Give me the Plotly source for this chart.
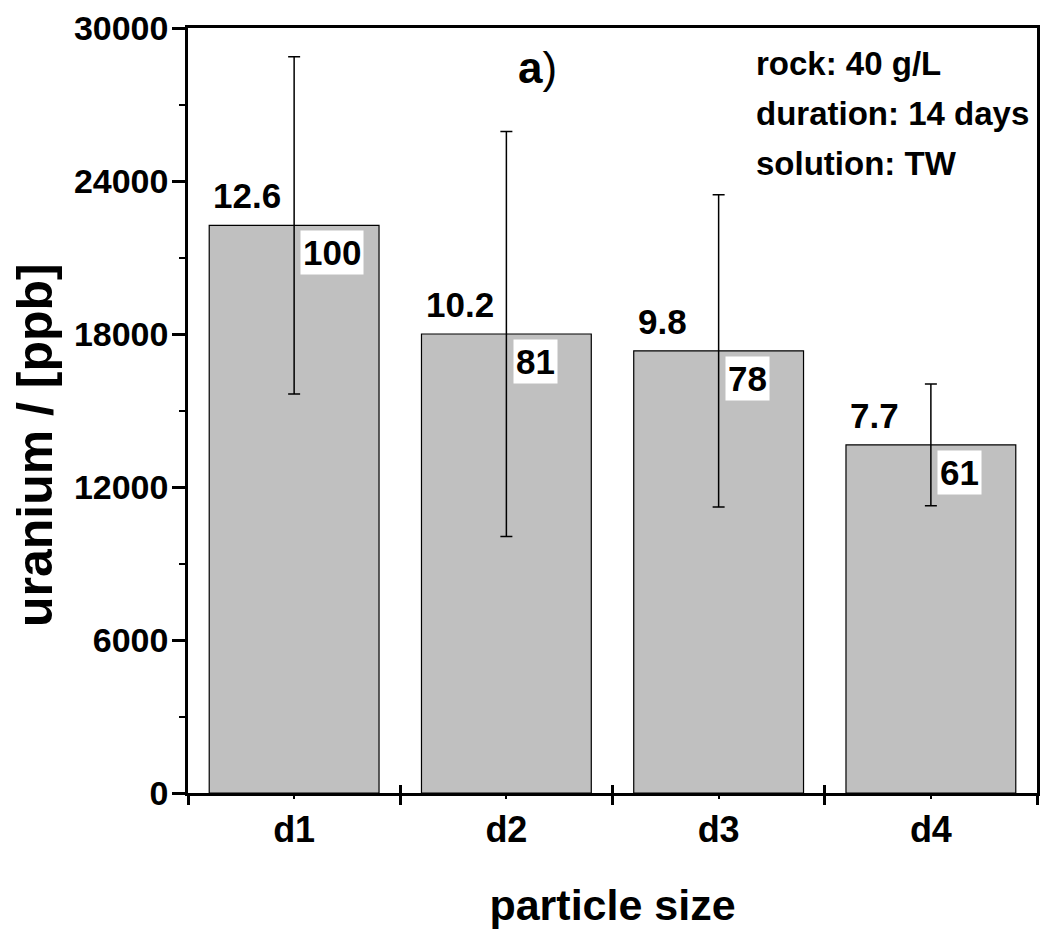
import plotly.graph_objects as go

categories = ["d1", "d2", "d3", "d4"]
uranium_ppb = [22260, 18000, 17340, 13650]
uranium_err = [6610, 7940, 6120, 2390]
top_labels = ["12.6", "10.2", "9.8", "7.7"]
inside_labels = ["100", "81", "78", "61"]
info_lines = ["rock: 40 g/L", "duration: 14 days", "solution: TW"]
y_ticks = [0, 6000, 12000, 18000, 24000, 30000]
x_title = "particle size"
y_title = "uranium / [ppb]"

FONT = "Liberation Sans, Arial, sans-serif"
xpos = list(range(len(categories)))

fig = go.Figure()
fig.add_trace(go.Bar(
    x=xpos, y=uranium_ppb, width=0.8,
    marker=dict(color="#c0c0c0", line=dict(color="black", width=1.2)),
    error_y=dict(type="data", array=uranium_err, visible=True,
                 color="black", thickness=1.5, width=6),
    showlegend=False, hoverinfo="skip",
))
# invisible trace holding the overlay axis used for inward boundary ticks
fig.add_trace(go.Scatter(x=[-0.5], y=[0], xaxis="x2", mode="markers",
                         marker=dict(opacity=0), showlegend=False, hoverinfo="skip"))

annotations = []
for i, (v, t1, t2) in enumerate(zip(uranium_ppb, top_labels, inside_labels)):
    annotations.append(dict(x=i - 0.39, y=v, xref="x", yref="y", text=t1,
                            xanchor="left", yanchor="bottom", yshift=8,
                            showarrow=False,
                            font=dict(family=FONT, size=35, color="black", weight="bold")))
    annotations.append(dict(x=i + 0.03, y=v, xref="x", yref="y", text=t2,
                            xanchor="left", yanchor="top", yshift=-5,
                            showarrow=False, bgcolor="white", borderpad=2,
                            font=dict(family=FONT, size=35, color="black", weight="bold")))
for k, line in enumerate(info_lines):
    annotations.append(dict(x=0.667, y=0.981 - k * 0.0655, xref="paper", yref="paper",
                            text=line, xanchor="left", yanchor="top", showarrow=False,
                            font=dict(family=FONT, size=33, color="black", weight="bold")))
annotations.append(dict(x=0.412, y=0.949, xref="paper", yref="paper",
                        text="<b>a</b>)", xanchor="center", yanchor="middle",
                        showarrow=False,
                        font=dict(family=FONT, size=44, color="black")))
# y-axis title (placed slightly below the axis centre, as in the original)
annotations.append(dict(x=-0.180, y=0.455, xref="paper", yref="paper",
                        text=y_title, textangle=-90, xanchor="center", yanchor="middle",
                        showarrow=False,
                        font=dict(family=FONT, size=50, color="black", weight="bold")))

fig.update_layout(
    width=1040, height=935,
    margin=dict(l=188, r=3, t=28, b=142),
    paper_bgcolor="white", plot_bgcolor="white",
    annotations=annotations,
    xaxis=dict(
        range=[-0.5, 3.5], tickmode="array", tickvals=xpos, ticktext=categories,
        ticks="outside", ticklen=3, tickwidth=1.5, tickcolor="black",
        minor=dict(tickmode="array", tickvals=[-0.5, 0.5, 1.5, 2.5, 3.5],
                   ticks="outside", ticklen=9, tickwidth=2.5, tickcolor="black"),
        showline=True, linecolor="black", linewidth=2.5, mirror=True,
        showgrid=False, zeroline=False, automargin=False,
        tickfont=dict(family=FONT, size=36, color="black", weight="bold"),
        ticklabelstandoff=0,
        title=dict(text=x_title, standoff=41,
                   font=dict(family=FONT, size=43, color="black", weight="bold")),
    ),
    xaxis2=dict(
        range=[-0.5, 3.5], overlaying="x", anchor="y", side="bottom",
        tickmode="array", tickvals=[0.5, 1.5, 2.5, 3.5],
        ticks="inside", ticklen=8, tickwidth=2.5, tickcolor="black",
        showticklabels=False, showline=False, showgrid=False, zeroline=False,
        automargin=False,
    ),
    yaxis=dict(
        range=[0, 30000], tickmode="array", tickvals=y_ticks,
        ticktext=[str(t) for t in y_ticks],
        ticks="outside", ticklen=13, tickwidth=2.5, tickcolor="black",
        minor=dict(dtick=3000, tick0=0, ticks="outside", ticklen=6, tickwidth=2, tickcolor="black"),
        showline=True, linecolor="black", linewidth=2.5, mirror=True,
        showgrid=False, zeroline=False, automargin=False,
        tickfont=dict(family=FONT, size=34, color="black", weight="bold"),
        ticklabelstandoff=-3,
    ),
)

fig.write_html(
    "out.html",
    config={"displayModeBar": False},
    post_script="document.body.style.margin='0';document.body.style.overflow='hidden';",
)
